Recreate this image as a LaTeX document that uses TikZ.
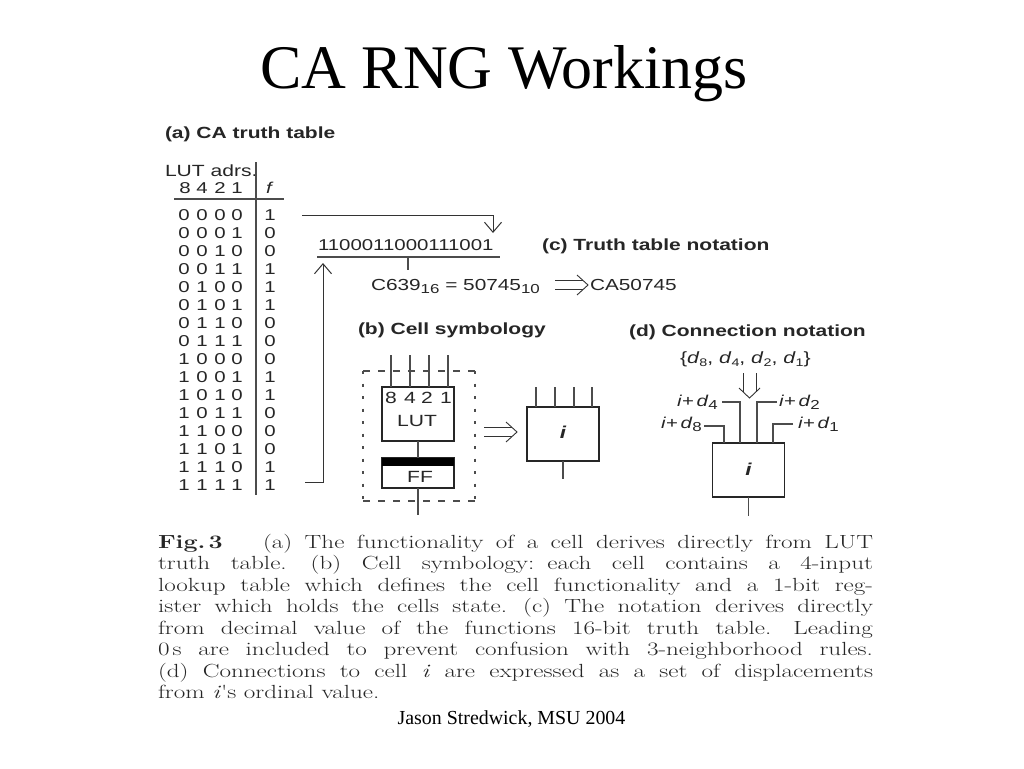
\documentclass[tikz,border=0pt]{standalone}
\usepackage{fontspec}
\setmainfont{Liberation Serif}
\newfontfamily\hv[FakeStretch=1.3]{Liberation Sans}
\newfontfamily\capf[FakeStretch=1.32]{Latin Modern Roman}
\usetikzlibrary{arrows.meta}
\newcommand{\sbs}[2][13]{\raisebox{-3.5pt}{\fontsize{#1}{#1}\selectfont #2}}
\newcommand{\capln}[2]{\hbox to #1{#2}}
\begin{document}
\begin{tikzpicture}[x=1pt,y=-1pt,
  every node/.style={inner sep=0pt,outer sep=0pt},
  dig/.style={font=\hv\fontsize{15.7}{16}\selectfont,text=black!85,anchor=base},
  lutfont/.style={font=\hv\fontsize{16.2}{16}\selectfont,text=black!85,anchor=base},
  ifont/.style={font=\hv\itshape\bfseries\fontsize{17.2}{17}\selectfont,text=black!85,anchor=base},
  lbl/.style={font=\hv\bfseries\fontsize{16.15}{16}\selectfont,anchor=base west,text=black!85},
  txt/.style={font=\hv\fontsize{15.7}{16}\selectfont,anchor=base west,text=black!85},
  ln/.style={draw=black!70,line width=1.3pt},
  boxln/.style={draw=black!85,line width=1.1pt,minimum width=72pt,minimum height=54pt},
  arr/.style={draw=black!80,line width=1pt,-{Straight Barb[length=10pt,width=17pt,line width=1pt]}},
  dl/.style={draw=black!80,line width=.9pt},
  capt/.style={font=\capf\fontsize{19}{19}\selectfont,anchor=base west,text=black!85}]
\path[use as bounding box] (0,0) rectangle (1024,768);
\fill[white] (0,0) rectangle (1024,768);
\node[anchor=base,font=\fontsize{62}{62}\selectfont] (title) at (504,88) {CA RNG Workings};
\node[lbl] (la) at (165,138) {(a) CA truth table};
\node[txt,font=\hv\fontsize{16.2}{16}\selectfont] (lut) at (165,176) {LUT adrs.};
\foreach \d/\x in {8/185,4/202,2/220,1/237} \node[dig] (h\d) at (\x,193) {\d};
\node[dig,font=\hv\itshape\fontsize{15.7}{16}\selectfont] (hf) at (269,193) {f};
\coordinate (vt) at (256,162); \coordinate (vb) at (256,495);
\coordinate (hl) at (174,199); \coordinate (hr) at (284,199);
\draw[ln] (vt) -- (vb); \draw[ln] (hl) -- (hr);
\foreach \a/\b/\c/\e/\f [count=\n from 0] in {
0/0/0/0/1,0/0/0/1/0,0/0/1/0/0,0/0/1/1/1,0/1/0/0/1,0/1/0/1/1,0/1/1/0/0,0/1/1/1/0,
1/0/0/0/0,1/0/0/1/1,1/0/1/0/1,1/0/1/1/0,1/1/0/0/0,1/1/0/1/0,1/1/1/0/1,1/1/1/1/1}{
  \pgfmathsetmacro{\yy}{220+18*\n}
  \node[dig] (a\n) at (184,\yy) {\a};
  \node[dig] (b\n) at (202,\yy) {\b};
  \node[dig] (c\n) at (220,\yy) {\c};
  \node[dig] (e\n) at (237,\yy) {\e};
  \node[dig] (f\n) at (270,\yy) {\f};
}
\coordinate (t1) at (302,215); \coordinate (t2) at (493,215); \coordinate (t3) at (493,233);
\draw[arr] (t1) -- (t2) -- (t3);
\node[txt] (bits) at (318,250) {1100011000111001};
\coordinate (rl) at (317,257); \coordinate (rr) at (500,257);
\draw[ln] (rl) -- (rr);
\coordinate (rm) at (408,257); \coordinate (rmb) at (408,270);
\draw[ln] (rm) -- (rmb);
\coordinate (u1) at (305,482); \coordinate (u2) at (323,482); \coordinate (u3) at (323,263);
\draw[arr] (u1) -- (u2) -- (u3);
\node[lbl] (lc) at (542,250) {(c) Truth table notation};
\node[txt,font=\hv\fontsize{16}{16}\selectfont] (eq) at (371,290) {C639\sbs{16} = 50745\sbs{10}};
\coordinate (da) at (555,285);\coordinate (db) at (588,285);
\draw[dl] ([yshift=4.3pt]da) -- ([yshift=4.3pt,xshift=-4.7pt]db);
\draw[dl] ([yshift=-4.3pt]da) -- ([yshift=-4.3pt,xshift=-4.7pt]db);
\draw[dl] ([xshift=-11pt,yshift=10pt]db) -- (db) -- ([xshift=-11pt,yshift=-10pt]db);
\node[txt,font=\hv\fontsize{16}{16}\selectfont] (ca) at (590,290) {CA50745};
\node[lbl] (lb) at (358,334) {(b) Cell symbology};
\coordinate (bx1) at (363,371); \coordinate (bx2) at (475,371);
\coordinate (bx3) at (475,501); \coordinate (bx4) at (363,501);
\draw[ln,dash pattern=on 7pt off 8pt] (bx1) -- (bx2);
\draw[ln,dash pattern=on 7pt off 8pt] (bx4) -- (bx3);
\draw[ln,dash pattern=on 3pt off 9.5pt] (bx1) -- (bx4);
\draw[ln,dash pattern=on 3pt off 9.5pt] (bx2) -- (bx3);
\node[boxln] (lutb) at (418,414) {};
\foreach \x/\d/\tx in {391/8/391,410/4/410,429/2/427,448/1/446}{
  \coordinate (top\d) at (\x,355);
  \coordinate (ent\d) at (\x,387);
  \draw[ln] (top\d) -- (ent\d);
  \node[lutfont] (l\d) at (\tx,403) {\d};
}
\node[lutfont] (lutt) at (417,426) {LUT};
\node[boxln,minimum height=30pt] (ff) at (418,473) {};
\fill[black] (382,458) rectangle (454,465.5);
\node[lutfont] (fft) at (420,482) {FF};
\draw[ln] (lutb.south) -- (ff.north);
\coordinate (ffo) at (418,515);
\draw[ln] (ff.south) -- (ffo);
\coordinate (ba) at (484,432);\coordinate (bb) at (517,432);
\draw[dl] ([yshift=4.3pt]ba) -- ([yshift=4.3pt,xshift=-4.7pt]bb);
\draw[dl] ([yshift=-4.3pt]ba) -- ([yshift=-4.3pt,xshift=-4.7pt]bb);
\draw[dl] ([xshift=-11pt,yshift=10pt]bb) -- (bb) -- ([xshift=-11pt,yshift=-10pt]bb);
\node[boxln] (cb) at (563,434) {};
\foreach \x/\d in {536/8,555/4,574/2,592/1}{
  \coordinate (ct\d) at (\x,387); \coordinate (cn\d) at (\x,407);
  \draw[ln] (ct\d) -- (cn\d);
}
\node[ifont] (ci) at (563,438) {i};
\coordinate (co) at (563,479);
\draw[ln] (cb.south) -- (co);
\node[lbl] (ld) at (629,336) {(d) Connection notation};
\node[txt,font=\hv\fontsize{16.3}{16}\selectfont] (set) at (680,363) {\{\textit{d}\sbs[11]{8}, \textit{d}\sbs[11]{4}, \textit{d}\sbs[11]{2}, \textit{d}\sbs[11]{1}\}};
\coordinate (sa) at (749.5,373);\coordinate (sb) at (749.5,398);
\draw[dl] ([xshift=6.5pt]sa) -- ([xshift=6.5pt,yshift=6.2pt]sb);
\draw[dl] ([xshift=-6.5pt]sa) -- ([xshift=-6.5pt,yshift=6.2pt]sb);
\draw[dl] ([xshift=-10.5pt,yshift=10pt]sb) -- (sb) -- ([xshift=10.5pt,yshift=10pt]sb);
\node[boxln] (db2) at (748.5,470) {};
\node[ifont] (di) at (748.5,475) {i};
\coordinate (do) at (748.5,516);
\draw[ln] (db2.south) -- (do);
\coordinate (w1a) at (704,426);\coordinate (w1b) at (724,426);\coordinate (w1c) at (724,443);
\coordinate (w2a) at (722,402);\coordinate (w2b) at (740,402);\coordinate (w2c) at (740,443);
\coordinate (w3a) at (777,402);\coordinate (w3b) at (757,402);\coordinate (w3c) at (757,443);
\coordinate (w4a) at (793,424);\coordinate (w4b) at (773,424);\coordinate (w4c) at (773,443);
\draw[ln] (w1a)--(w1b)--(w1c); \draw[ln] (w2a)--(w2b)--(w2c);
\draw[ln] (w3a)--(w3b)--(w3c); \draw[ln] (w4a)--(w4b)--(w4c);
\node[txt] (n4) at (677,406) {\textit{i}+\,\textit{d}\sbs{4}};
\node[txt] (n2) at (779,406) {\textit{i}+\,\textit{d}\sbs{2}};
\node[txt] (n8) at (661,428) {\textit{i}+\,\textit{d}\sbs{8}};
\node[txt] (n1) at (798,428) {\textit{i}+\,\textit{d}\sbs{1}};
\node[capt] (c1a) at (158,548) {\textbf{Fig.\,3}};
\node[capt] (c1) at (263,548) {\capln{610pt}{(a) The functionality of a cell derives directly from LUT}};
\node[capt] (c2) at (158,569.5) {\capln{715pt}{truth table.\hskip 24pt (b) Cell symbology:\hskip 13pt each cell contains a 4-input}};
\node[capt] (c3) at (158,591) {\capln{715pt}{lookup table which defines the cell functionality and a 1-bit reg-}};
\node[capt] (c4) at (158,612.5) {\capln{715pt}{ister which holds the cells state.\hskip 16pt (c) The notation derives directly}};
\node[capt] (c5) at (158,634) {\capln{715pt}{from decimal value of the functions 16-bit truth table.\hskip 22pt Leading}};
\node[capt] (c6) at (158,655.5) {\capln{715pt}{0\,s are included to prevent confusion with 3-neighborhood rules.}};
\node[capt] (c7) at (158,677) {\capln{715pt}{(d) Connections to cell \textit{i} are expressed as a set of displacements}};
\node[capt] (c8) at (158,698.5) {from \textit{i}'s ordinal value.};
\node[anchor=base,font=\fontsize{19.9}{20}\selectfont] (foot) at (511.5,724) {Jason Stredwick, MSU 2004};
\end{tikzpicture}
\end{document}
